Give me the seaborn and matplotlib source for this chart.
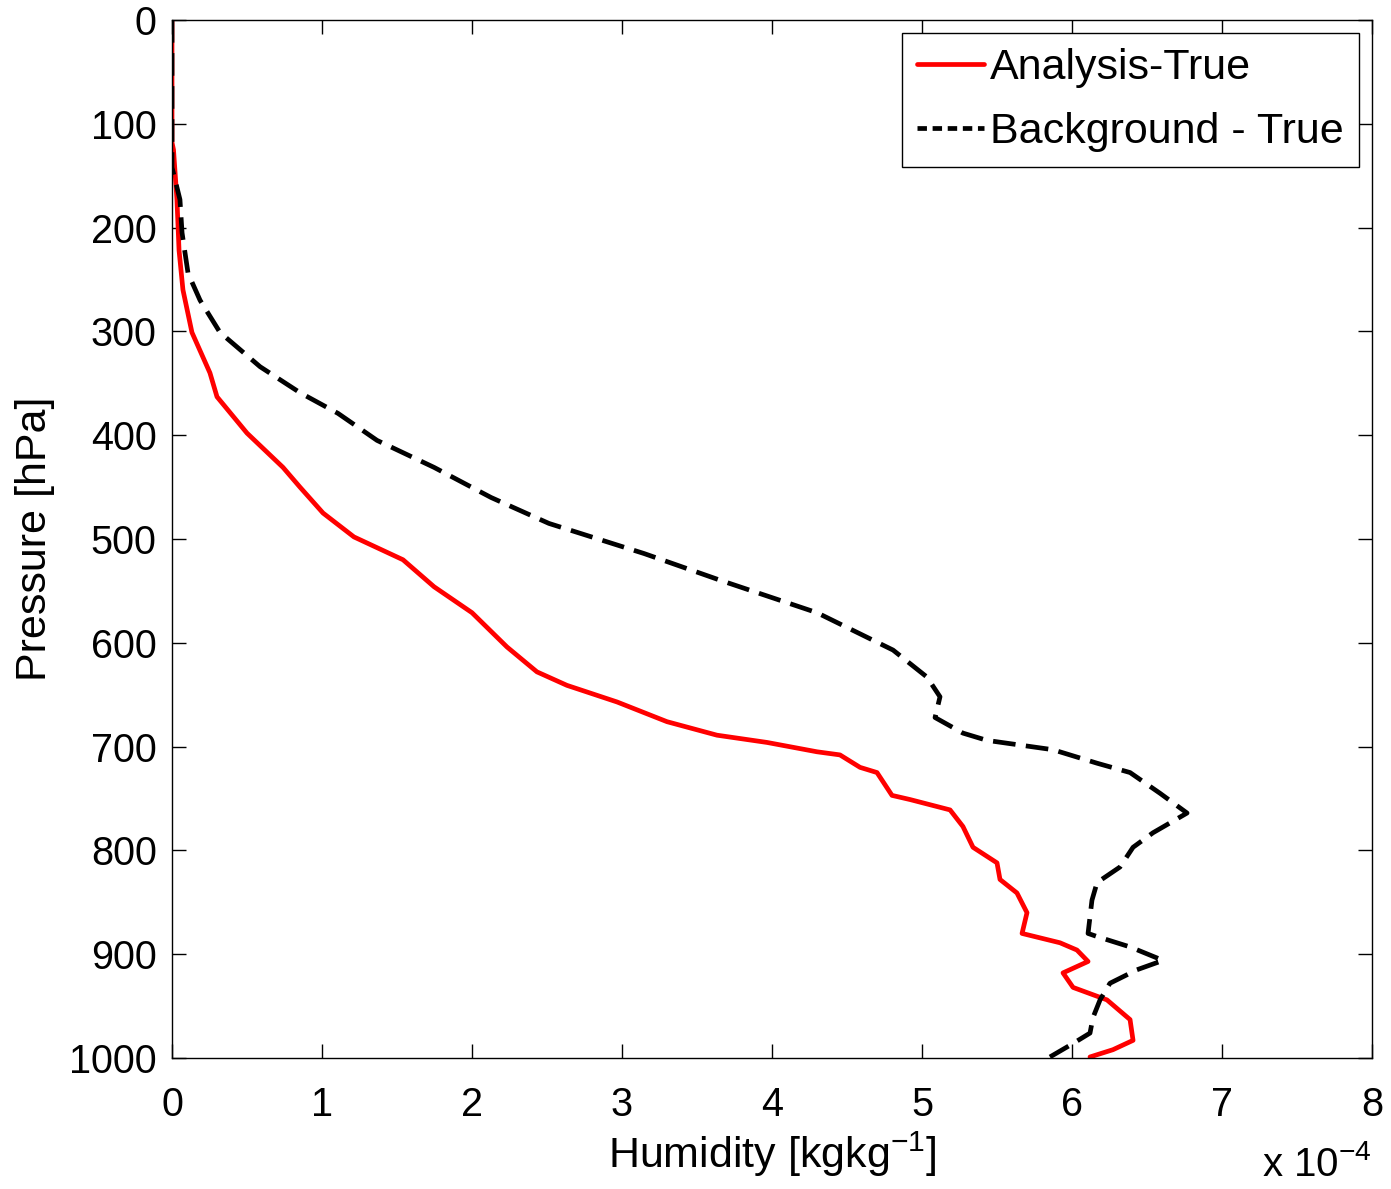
import matplotlib
matplotlib.use("Agg")
import matplotlib.pyplot as plt
import seaborn as sns
import pandas as pd

# Analysis - True  (humidity in units of 1e-4 kg/kg, pressure in hPa)
ana_p = [0, 118, 125, 173, 222, 260, 301, 340, 363, 398, 431, 450, 475, 498, 520, 546,
         571, 604, 628, 641, 657, 676, 689, 696, 705, 708, 720, 725, 747, 751, 761, 777,
         797, 812, 828, 841, 860, 880, 889, 896, 907, 918, 932, 944, 963, 983, 992, 999]
ana_q = [0.0, 0.0, 0.01, 0.033, 0.047, 0.073, 0.133, 0.253, 0.30, 0.50, 0.74, 0.853, 1.007,
         1.213, 1.54, 1.747, 2.0, 2.233, 2.433, 2.633, 2.967, 3.30, 3.633, 3.967, 4.30, 4.453,
         4.587, 4.70, 4.80, 4.92, 5.187, 5.273, 5.34, 5.50, 5.52, 5.633, 5.70, 5.667, 5.92,
         6.033, 6.107, 5.94, 6.007, 6.233, 6.387, 6.407, 6.273, 6.12]

# Background - True
bg_p = [0, 142, 173, 205, 244, 270, 301, 334, 359, 379, 405, 431, 460, 485, 514, 540,
        571, 607, 633, 652, 672, 687, 694, 703, 716, 725, 745, 764, 783, 797, 816, 831,
        848, 880, 883, 893, 906, 915, 928, 944, 961, 976, 986, 999]
bg_q = [0.0, 0.0, 0.053, 0.067, 0.107, 0.187, 0.32, 0.587, 0.853, 1.107, 1.367, 1.747,
        2.127, 2.513, 3.147, 3.66, 4.30, 4.807, 5.033, 5.12, 5.087, 5.273, 5.433, 5.873,
        6.167, 6.387, 6.587, 6.767, 6.54, 6.407, 6.32, 6.167, 6.133, 6.107, 6.167, 6.387,
        6.607, 6.433, 6.253, 6.187, 6.14, 6.12, 6.007, 5.853]

x_ticks = [0, 1, 2, 3, 4, 5, 6, 7, 8]
y_ticks = [0, 100, 200, 300, 400, 500, 600, 700, 800, 900, 1000]
labels = ["Analysis-True", "Background - True"]

sns.set_style("ticks")
plt.rcParams["font.family"] = ["Liberation Sans", "DejaVu Sans"]
plt.rcParams["mathtext.fontset"] = "custom"
plt.rcParams["mathtext.rm"] = "Liberation Sans"
plt.rcParams["mathtext.it"] = "Liberation Sans"
plt.rcParams["text.color"] = "black"
plt.rcParams["axes.labelcolor"] = "black"
plt.rcParams["xtick.color"] = "black"
plt.rcParams["ytick.color"] = "black"

df_a = pd.DataFrame({"q": ana_q, "p": ana_p})
df_b = pd.DataFrame({"q": bg_q, "p": bg_p})

fig = plt.figure(figsize=(13.91, 11.89), dpi=100)
ax = fig.add_axes([172 / 1391, 1 - 1058 / 1189, 1200 / 1391, 1038 / 1189])

sns.lineplot(data=df_a, x="q", y="p", sort=False, estimator=None, color="red",
             linewidth=3.4, ax=ax, label=labels[0])
sns.lineplot(data=df_b, x="q", y="p", sort=False, estimator=None, color="black",
             linewidth=3.4, ax=ax, label=labels[1], dashes=False)
ax.lines[1].set_dashes([4.8, 2.2])

ax.set_xlim(0, 8)
ax.set_ylim(1000, 0)
ax.set_xticks(x_ticks)
ax.set_yticks(y_ticks)
ax.tick_params(direction="in", length=10, width=1, labelsize=28.5, top=True, right=True,
               color="black")
ax.tick_params(axis="x", pad=20)
ax.tick_params(axis="y", pad=11)
for s in ax.spines.values():
    s.set_visible(True)
    s.set_color("black")
    s.set_linewidth(1)

ax.set_xlabel(r"Humidity [kgkg$^{-1}$]", fontsize=31, labelpad=4)
ax.set_ylabel("Pressure [hPa]", fontsize=31, labelpad=10)
fig.text(1372 / 1391, 1 - 1184 / 1189, r"x 10$^{-4}$", fontsize=29, ha="right", va="bottom")

leg = ax.legend(loc="upper right", fontsize=31, frameon=True, fancybox=False,
                edgecolor="black", framealpha=1, handlelength=1.55, handletextpad=0.15,
                borderaxespad=0.3, borderpad=0.35, labelspacing=0.55)
leg.get_frame().set_linewidth(1)
leg.get_lines()[1].set_dashes([2.0, 1.2])

fig.savefig("out.png", dpi=100, facecolor="white")
